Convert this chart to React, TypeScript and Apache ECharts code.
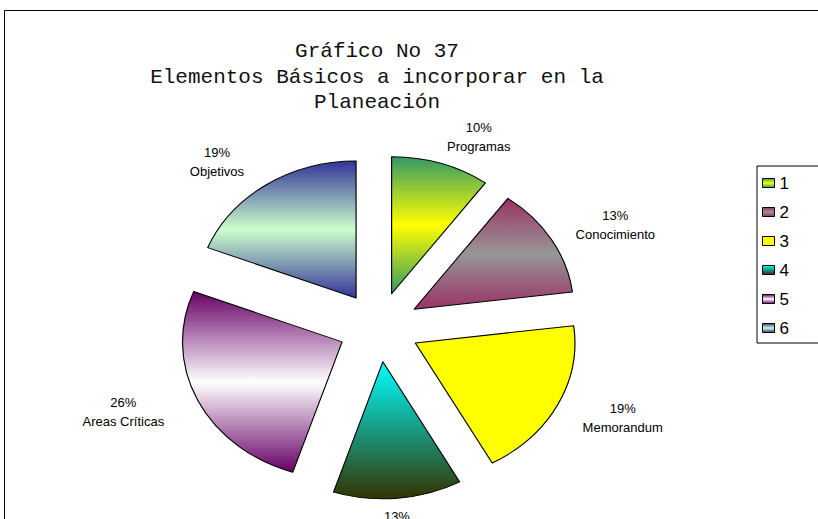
import React, { useEffect, useRef } from 'react';
import * as echarts from 'echarts';

// ---- data ----
const categories = ['Programas', 'Conocimiento', 'Memorandum', 'Estrategias', 'Areas Críticas', 'Objetivos'];
const values = [10, 13, 19, 13, 26, 19];
const legendLabels = ['1', '2', '3', '4', '5', '6'];
const titleLines = ['Gráfico No 37', 'Elementos Básicos a incorporar en la', 'Planeación'];
const sliceGradients = [
  ['#339966', '#ffff00', '#339966'],
  ['#993366', '#969696', '#993366'],
  ['#ffff00', '#ffff00'],
  ['#00ffff', '#333300'],
  ['#660066', '#ffffff', '#660066'],
  ['#333399', '#ccffcc', '#333399'],
];

// ---- layout constants ----
const W = 818;
const H = 519;
const CX = 379;
const CY = 327;
const R = 137;
const EXPLODE = 35;
const SX = 1.165; // horizontal stretch of the (elliptical) pie
const LABEL_R = 200;

const grad = (i: number) => {
  const stops = sliceGradients[i];
  return new echarts.graphic.LinearGradient(
    0, 0, 0, 1,
    stops.map((c, k) => ({ offset: k / (stops.length - 1), color: c }))
  );
};

export default function App() {
  const pieRef = useRef<HTMLDivElement>(null);
  const textRef = useRef<HTMLDivElement>(null);

  useEffect(() => {
    document.body.style.margin = '0';
    const pie = echarts.init(pieRef.current!, null, { renderer: 'svg' });
    const txt = echarts.init(textRef.current!, null, { renderer: 'svg' });

    pie.setOption({
      animation: false,
      series: [
        {
          type: 'pie',
          silent: true,
          center: [CX, CY],
          radius: R,
          startAngle: 90,
          clockwise: true,
          selectedMode: 'multiple',
          selectedOffset: EXPLODE,
          avoidLabelOverlap: false,
          label: { show: false },
          labelLine: { show: false },
          emphasis: { disabled: true },
          itemStyle: { borderColor: '#000', borderWidth: 1 },
          select: { itemStyle: { borderColor: '#000', borderWidth: 1 } },
          data: categories.map((name, i) => ({
            name,
            value: values[i],
            selected: true,
            itemStyle: { color: grad(i) },
          })),
        },
      ],
    });

    txt.setOption({
      animation: false,
      title: {
        text: titleLines.join('\n'),
        left: CX - 2,
        top: 39,
        padding: 0,
        textAlign: 'center',
        textStyle: {
          fontFamily: 'Liberation Mono',
          fontSize: 21,
          fontWeight: 'normal',
          lineHeight: 25.5,
          color: '#111',
        },
      },
      legend: {
        orient: 'vertical',
        left: 757,
        top: 166,
        padding: [7, 80, 5, 5],
        borderColor: '#000',
        borderWidth: 1,
        itemWidth: 12,
        itemHeight: 9,
        itemGap: 9,
        icon: 'rect',
        selectedMode: false,
        formatter: (name: string) => legendLabels[categories.indexOf(name)],
        textStyle: { fontFamily: 'Liberation Sans', fontSize: 17, lineHeight: 20, color: '#000' },
        data: categories.map((name, i) => ({
          name,
          itemStyle: { color: grad(i), borderColor: '#000', borderWidth: 1 },
        })),
      },
      graphic: [
        {
          type: 'rect',
          shape: { x: 4.5, y: 10.5, width: 900, height: 600 },
          style: { fill: 'none', stroke: '#000', lineWidth: 1 },
          silent: true,
        },
      ],
      series: [
        {
          type: 'pie',
          silent: true,
          center: [CX, CY],
          radius: R,
          startAngle: 90,
          clockwise: true,
          avoidLabelOverlap: false,
          emphasis: { disabled: true },
          itemStyle: { color: 'rgba(0,0,0,0)', borderWidth: 0 },
          label: {
            show: true,
            position: 'outside',
            distanceToLabelLine: 0,
            formatter: (p: any) => `{c|${Math.round(p.percent)}%}\n{c|${p.name}}`,
            rich: {
              c: {
                fontFamily: 'Liberation Sans',
                fontSize: 13,
                lineHeight: 19,
                align: 'center',
                color: '#000',
              },
            },
          },
          labelLine: { show: false, length: LABEL_R - R, length2: 0 },
          labelLayout: (p: any) => {
            const r = p.labelRect;
            const right = r.x + r.width / 2 > CX;
            const ax = right ? r.x : r.x + r.width;
            let dx = (ax - CX) * (SX - 1) - 4;
            // labels right below / above the pie are centred on their anchor
            if (Math.abs(ax - CX) < 0.2 * LABEL_R) {
              dx += right ? -r.width / 2 : r.width / 2;
            }
            return { dx };
          },
          data: categories.map((name, i) => ({ name, value: values[i] })),
        },
      ],
    });

    return () => {
      pie.dispose();
      txt.dispose();
    };
  }, []);

  return (
    <div style={{ position: 'fixed', left: 0, top: 0, width: W, height: H, overflow: 'hidden', background: '#fff' }}>
      <div
        ref={pieRef}
        style={{
          position: 'absolute',
          left: 0,
          top: 0,
          width: W,
          height: H,
          transform: `scaleX(${SX})`,
          transformOrigin: `${CX}px ${CY}px`,
        }}
      />
      <div ref={textRef} style={{ position: 'absolute', left: 0, top: 0, width: W, height: H }} />
    </div>
  );
}
